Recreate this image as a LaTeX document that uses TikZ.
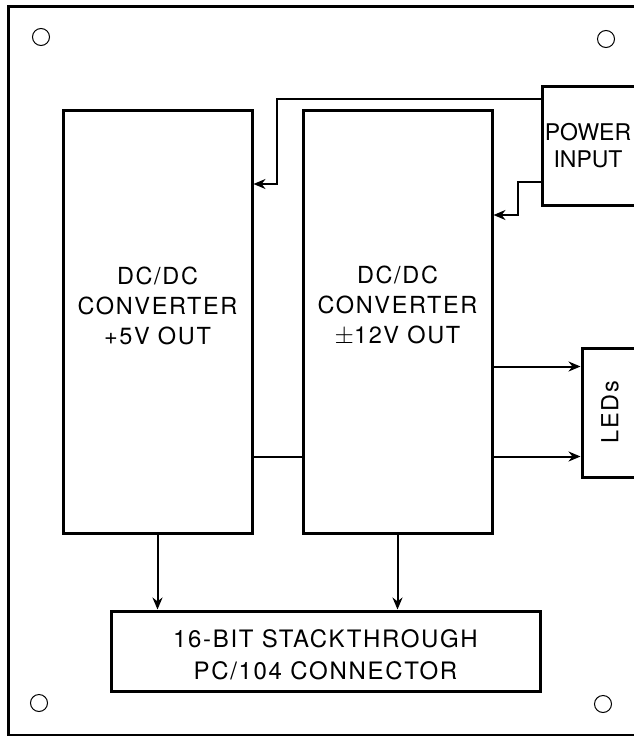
\documentclass[tikz,border=0pt]{standalone}
\usepackage{fontspec}
\setmainfont{TeX Gyre Heros}
\newfontfamily\widefont{TeX Gyre Heros}[LetterSpace=7]
\usepackage{tikz}
\usetikzlibrary{arrows.meta}

\tikzset{
  board/.style={line width=3pt},
  hole/.style={line width=1pt},
  blockbox/.style={draw, line width=3pt, inner sep=0pt},
  blocktext/.style={font=\widefont\fontsize{23.5}{30}\selectfont, align=center, inner sep=0pt},
  wire/.style={line width=2pt},
  feed/.style={wire, -{Stealth[length=12pt,width=10pt]}},
}

\begin{document}
\begin{tikzpicture}[x=1pt, y=-1pt]
  \clip (0,0) rectangle (634,736);
  % board outline and mounting holes
  \draw[board] (8,6) rectangle (720,735.8);
  \foreach \hx/\hy in {41/37, 606/39, 39/703, 603/704} {
    \draw[hole] (\hx,\hy) circle[radius=8.5];
  }
  % converters
  \node[blockbox, minimum width=189, minimum height=423] (dc5) at (157.5,321.5) {};
  \node[blocktext] (dc5txt) at (157.5,306) {DC/DC\\CONVERTER\\+5V OUT};
  \node[blockbox, minimum width=189, minimum height=423] (dc12) at (397.5,321.5) {};
  \node[blocktext] (dc12txt) at (397.5,306) {DC/DC\\CONVERTER\\$\pm$12V OUT};
  % power input and leds (cut by the board edge)
  \node[blockbox, minimum width=94, minimum height=119] (pwr) at (589,145.5) {};
  \node[font=\fontsize{23}{27}\selectfont, align=center, inner sep=0pt] (pwrtxt) at (588,146) {POWER\\INPUT};
  \node[blockbox, minimum width=56, minimum height=129] (led) at (610,412.5) {};
  \node[blocktext, rotate=90] (ledtxt) at (610,412) {LEDs};
  % bus connector
  \node[blockbox, minimum width=429, minimum height=80] (bus) at (325.5,651) {};
  \node[blocktext, font=\widefont\fontsize{24}{32}\selectfont] (bustxt) at (325.5,655) {16-BIT STACKTHROUGH\\PC/104 CONNECTOR};
  % power feeds
  \coordinate (bend5) at (277,184);
  \coordinate (bend12) at (518,215);
  \draw[feed] ([yshift=-14pt]pwr.north west) -| (bend5) -- (bend5 -| dc5.east);
  \draw[feed] ([yshift=-36pt]pwr.west) -| (bend12) -- (bend12 -| dc12.east);
  % led outputs
  \coordinate (ledhi) at ([yshift=-45pt]dc12.east);
  \coordinate (ledlo) at ([yshift=-135pt]dc12.east);
  \draw[feed] (ledhi) -- (ledhi -| led.west);
  \draw[feed] (ledlo) -- (ledlo -| led.west);
  \draw[wire] (ledlo -| dc5.east) -- (ledlo -| dc12.west);
  % outputs to bus
  \draw[feed] (dc5.south) -- (dc5.south |- bus.north);
  \draw[feed] (dc12.south) -- (dc12.south |- bus.north);
\end{tikzpicture}
\end{document}
